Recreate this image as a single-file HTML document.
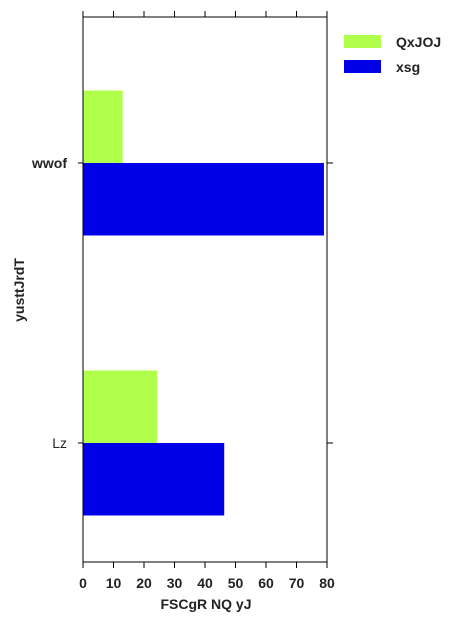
<!DOCTYPE html>
<html><head><meta charset="utf-8"><style>
body{margin:0;background:#fff;}
svg{display:block;font-family:"Liberation Sans",sans-serif;font-weight:bold;}
</style></head><body>
<svg width="468" height="624" id="c">
<g id="plot"></g>
<rect x="83" y="17" width="244" height="545" fill="none" stroke="#000" stroke-width="1"/>
<g id="ticks"></g>
<text x="206" y="609" font-size="14" text-anchor="middle" fill="#222">FSCgR NQ yJ</text>
<text transform="translate(24,290) rotate(-90)" font-size="14" text-anchor="middle" fill="#222">yusttJrdT</text>
<g>
<rect x="344" y="35" width="37" height="13" fill="#b0ff4a"/>
<text x="396" y="47" font-size="14" fill="#222">QxJOJ</text>
<rect x="344" y="60" width="37" height="13" fill="#0000e8"/>
<text x="396" y="72" font-size="14" fill="#222">xsg</text>
</g>
</svg>
<script>
const categories=["wwof","Lz"];
const seriesA=[13,24.3];
const seriesB=[79,46.3];
const xTicks=[0,10,20,30,40,50,60,70,80];
const NS="http://www.w3.org/2000/svg";
const x=v=>83+v*(244/80);
const catY=[163,443];
const bh=72.5;
const plot=document.getElementById('plot'),tk=document.getElementById('ticks');
function mk(t,a,p){const e=document.createElementNS(NS,t);for(const k in a)e.setAttribute(k,a[k]);p.appendChild(e);return e;}
categories.forEach((c,i)=>{
 const y=catY[i];
 const a=mk('rect',{x:x(0),y:y-bh,width:x(seriesA[i])-x(0),height:bh,fill:'#b0ff4a'},plot);
 
 
 const b=mk('rect',{x:x(0),y:y,width:x(seriesB[i])-x(0),height:bh,fill:'#0000e8'},plot);
 
 
 mk('line',{x1:78,x2:83,y1:y,y2:y,stroke:'#000'},tk);
 mk('line',{x1:327,x2:333,y1:y,y2:y,stroke:'#000'},tk);
 const t=mk('text',{x:67,y:y+5,'font-size':14,'text-anchor':'end',fill:'#222','font-weight':i==0?'bold':'normal'},tk);
 t.textContent=c;
 
 
});
xTicks.forEach(v=>{
 mk('line',{x1:x(v),x2:x(v),y1:562,y2:568,stroke:'#000'},tk);
 mk('line',{x1:x(v),x2:x(v),y1:11,y2:17,stroke:'#000'},tk);
 const t=mk('text',{x:x(v),y:588,'font-size':14,'text-anchor':'middle',fill:'#222'},tk);
 t.textContent=v;
 
 
});
</script>
</body></html>
